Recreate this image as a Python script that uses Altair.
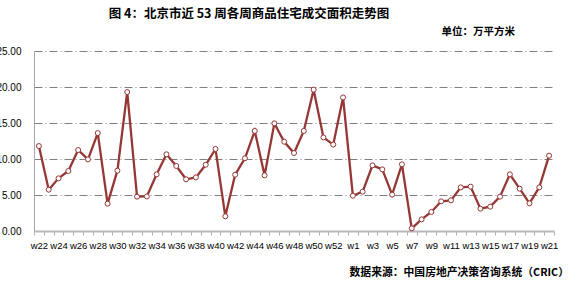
import json
import altair as alt
import pandas as pd

weeks = ([f"w{k}" for k in range(22, 54)] + [f"w{k}" for k in range(1, 22)])
values = [11.8, 5.74, 7.31, 8.33, 11.25, 9.95, 13.6, 3.8, 8.38, 19.3, 4.77,
          4.8, 7.87, 10.65, 9.03, 7.18, 7.45, 9.2, 11.4, 2.04, 7.82,
          10.1, 13.9, 7.73, 14.95, 12.4, 10.83, 13.9, 19.63, 13.0, 12.0, 18.55,
          4.9, 5.46, 9.12, 8.56, 5.05, 9.26, 0.37, 1.62, 2.64,
          4.12, 4.26, 6.06, 6.16, 3.1, 3.38, 4.77, 7.87, 5.88, 3.84, 6.06, 10.46]
y_ticks = [0, 5, 10, 15, 20, 25]

title_text = "图 4：北京市近 53 周各周商品住宅成交面积走势图"
unit_text = "单位：万平方米"
source_text = "数据来源：中国房地产决策咨询系统（CRIC）"

df = pd.DataFrame({"i": list(range(len(weeks))), "week": weeks, "v": values})

COLOR = "#953735"
W, H = 520, 180
n = len(weeks)

x_enc = alt.X(
    "i:Q",
    scale=alt.Scale(domain=[-0.5, n - 0.5], nice=False, zero=False),
    axis=alt.Axis(
        title=None,
        values=[k / 2 - 0.5 for k in range(2 * n + 1)],
        labelExpr=f"(datum.value % 2 === 0) ? {json.dumps(weeks)}[datum.value] : ''",
        labelOverlap=False, labelFlush=False, labelBound=False,
        labelFont="Liberation Sans", labelFontSize=9.5, labelColor="#000000",
        labelPadding=5,
        tickOpacity={"condition": {"test": "datum.value % 1 !== 0", "value": 1}, "value": 0},
        tickSize=4, tickColor="#b0b0b0", tickWidth=1,
        domainColor="#b8b8b8", domainWidth=2,
        grid=False,
    ),
)
y_enc = alt.Y(
    "v:Q",
    scale=alt.Scale(domain=[0, 25], nice=False),
    axis=alt.Axis(
        title=None, values=y_ticks, format=".2f",
        labelFont="Liberation Sans", labelFontSize=10, labelColor="#000000",
        labelPadding=13, tickSize=0,
        domainColor="#a6a6a6", domainWidth=1,
        grid=True, gridColor="#808080", gridDash=[8, 3, 1, 3], gridWidth=1,
        gridOpacity={"condition": {"test": "datum.value === 0", "value": 0}, "value": 1},
    ),
)

base = alt.Chart(df)
line = base.mark_line(color=COLOR, strokeWidth=2.3).encode(x=x_enc, y=y_enc)
pts = base.mark_point(shape="circle", filled=True, fill="white", stroke=COLOR,
                      strokeWidth=1, size=25, opacity=1).encode(x=x_enc, y=y_enc)

def label(txt, x, y, size, align):
    return alt.Chart(pd.DataFrame({"t": [txt]})).mark_text(
        font="Noto Sans CJK SC", fontWeight="bold", fontSize=size,
        align=align, baseline="middle", color="#000000",
    ).encode(text="t:N", x=alt.value(x), y=alt.value(y))

t1 = label(title_text, 215, -37, 12.5, "center")
t2 = label(unit_text, 481, -19, 10.5, "right")
t3 = label(source_text, 535, 222, 10.8, "right")

chart = alt.layer(line, pts, t1, t2, t3).properties(
    width=W, height=H,
    autosize="none",
    padding={"left": 34, "top": 51, "right": 25, "bottom": 53},
).configure_view(stroke=None)

chart.save("out.html", embed_options={"renderer": "svg", "actions": False})
